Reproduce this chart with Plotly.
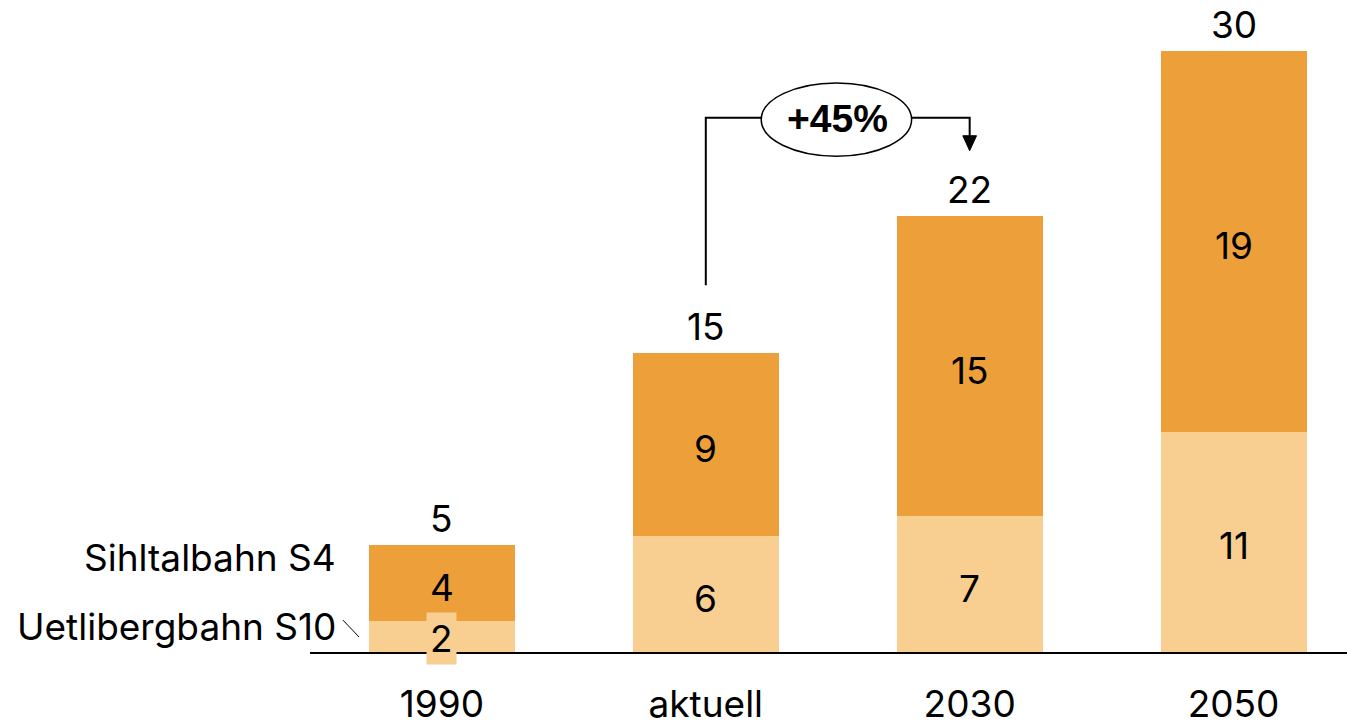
import plotly.graph_objects as go

# ---- data ----
categories = ["1990", "aktuell", "2030", "2050"]
uetliberg = [1.55, 5.8, 6.8, 11.05]       # Uetlibergbahn S10 (light)
sihltal = [3.8, 9.2, 15.05, 19.1]         # Sihltalbahn S4 (orange)
uetliberg_labels = ["2", "6", "7", "11"]
sihltal_labels = ["4", "9", "15", "19"]
total_labels = ["5", "15", "22", "30"]
change_label = "+45%"
series_names = ["Uetlibergbahn S10", "Sihltalbahn S4"]

ORANGE = "#EDA03A"
LIGHT = "#F8CF91"
FONT = "Inter"
FS = 37

x = list(range(len(categories)))
totals = [a + b for a, b in zip(uetliberg, sihltal)]

fig = go.Figure()
fig.add_bar(x=x, y=uetliberg, name=series_names[0], marker=dict(color=LIGHT, line=dict(width=0)),
            width=0.553, hoverinfo="skip")
fig.add_bar(x=x, y=sihltal, name=series_names[1], marker=dict(color=ORANGE, line=dict(width=0)),
            width=0.553, hoverinfo="skip")

ann = []
for i in x:
    ann.append(dict(x=i, y=uetliberg[i] / 2, text=uetliberg_labels[i], showarrow=False,
                    yshift=-2 if i == 0 else -4,
                    font=dict(family=FONT, size=FS, color="black"),
                    bgcolor=LIGHT if i == 0 else None, borderpad=3 if i == 0 else 1,
                    xref="x", yref="y"))
    ann.append(dict(x=i, y=uetliberg[i] + sihltal[i] / 2, text=sihltal_labels[i], showarrow=False,
                    yshift=-4,
                    font=dict(family=FONT, size=FS, color="black"), xref="x", yref="y"))
    ann.append(dict(x=i, y=totals[i], yshift=27, text=total_labels[i], showarrow=False,
                    font=dict(family=FONT, size=FS, color="black"), xref="x", yref="y"))

# series labels on the left
ann.append(dict(x=-0.394, y=4.72, text=series_names[1], showarrow=False, xanchor="right",
                font=dict(family=FONT, size=FS, color="black"), xref="x", yref="y"))
ann.append(dict(x=-0.394, y=1.30, text=series_names[0], showarrow=False, xanchor="right",
                font=dict(family=FONT, size=FS, color="black"), xref="x", yref="y"))

# change label
ann.append(dict(x=1.5, y=26.75, text="<b>" + change_label + "</b>", showarrow=False,
                font=dict(family="Liberation Sans", size=39, color="black"), xref="x", yref="y"))

shapes = [
    dict(type="line", xref="x", yref="y", x0=-0.375, y0=1.6, x1=-0.314, y1=0.75,
         line=dict(color="black", width=1)),
    dict(type="path", xref="x", yref="y",
         path=f"M 1 {totals[1] + 3.4} L 1 26.8 L 1.21 26.8",
         line=dict(color="black", width=2)),
    dict(type="path", xref="x", yref="y",
         path="M 1.777 26.8 L 2 26.8 L 2 25.7",
         line=dict(color="black", width=2)),
    dict(type="path", xref="x", yref="y",
         path="M 1.974 25.9 L 2.026 25.9 L 2 25.15 Z",
         fillcolor="black", line=dict(color="black", width=1)),
    dict(type="circle", xref="x", yref="y", x0=1.21, x1=1.78, y0=24.87, y1=28.55,
         line=dict(color="black", width=1.5), fillcolor="white"),
]

fig.update_layout(
    barmode="stack",
    width=1347, height=723,
    margin=dict(l=310, r=0, t=0, b=71),
    paper_bgcolor="white", plot_bgcolor="white",
    showlegend=False,
    annotations=ann,
    shapes=shapes,
    font=dict(family=FONT, size=FS, color="black"),
    xaxis=dict(range=[-0.5, 3.43], tickvals=x, ticktext=categories, showgrid=False, zeroline=False,
               showline=True, linecolor="black", linewidth=1.5, ticks="", ticklabelstandoff=19,
               automargin=False,
               tickfont=dict(family=FONT, size=FS, color="black"), fixedrange=True),
    yaxis=dict(range=[0, 32.71], visible=False, showgrid=False, zeroline=False, fixedrange=True,
               automargin=False),
)

fig.write_html("out.html", config={"displayModeBar": False},
               post_script="document.body.style.margin='0px';")
